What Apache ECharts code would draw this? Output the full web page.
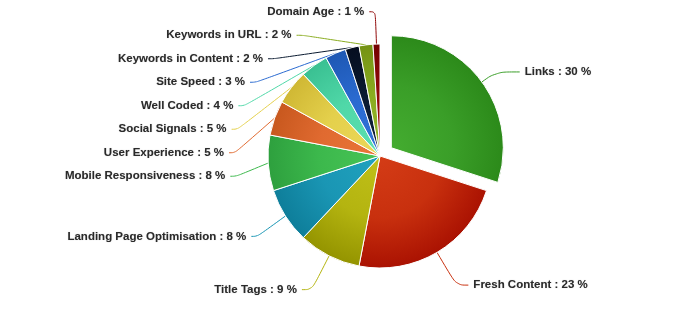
<!DOCTYPE html>
<html><head><meta charset="utf-8">
<script src="https://cdn.jsdelivr.net/npm/echarts@6/dist/echarts.min.js"></script>
<style>html,body{margin:0;padding:0;background:#fff}#c{width:700px;height:316px}</style>
</head><body><div id="c"></div>
<script>
var categories = ['Links','Fresh Content','Title Tags','Landing Page Optimisation','Mobile Responsiveness','User Experience','Social Signals','Well Coded','Site Speed','Keywords in Content','Keywords in URL','Domain Age'];
var values = [30,23,9,8,8,5,5,4,3,2,2,1];
var lights = ['#44ac30','#d43c16','#c0c018','#20a2be','#48c456','#ea7638','#ecd858','#5ce0b0','#3274d8','#12223c','#94b428','#9c0e0e'];
var colors = ['#3a9e28','#c8300e','#b4b410','#1a96b4','#3cb84c','#e06a30','#e4d04c','#50d8a8','#2a6ad0','#0a1a30','#8aac20','#900808'];
var darks  = ['#2c8a1a','#aa1202','#949400','#0e7e9a','#2ea03e','#c8581e','#d0b834','#3ac092','#1e58b4','#060e20','#749214','#740202'];

var CX = 380, CY = 156, R = 112;
var data = categories.map(function(n,i){
  var d = {
    name:n, value:values[i], selected: i===0,
    itemStyle:{ color:{type:'radial',x:CX,y:CY,r:R,global:true,colorStops:[
      {offset:0,color:lights[i]},{offset:0.55,color:colors[i]},{offset:1,color:darks[i]}]}},
    labelLine:{lineStyle:{color:colors[i]}}
  };
  if (i===0) { d.labelLine.length = 17; d.labelLine.length2 = 24; }
  if (i===1) { d.labelLine.length2 = 12; }
  if (i===2) { d.labelLine.length2 = 10; }
  return d;
});
var chart = echarts.init(document.getElementById('c'));
chart.setOption({
  animation:false,
  series:[{
    type:'pie',
    center:[CX,CY],
    radius:R,
    startAngle:90,
    clockwise:true,
    selectedMode:'single',
    selectedOffset:14,
    avoidLabelOverlap:true,
    itemStyle:{borderColor:'#fff',borderWidth:1},
    label:{
      formatter:'{b} : {c} %',
      fontFamily:'Liberation Sans, Arial, sans-serif',
      fontWeight:'bold',
      fontSize:11.5,
      lineHeight:21.5,
      color:'#2a2a2a',
      textShadowColor:'rgba(0,0,0,0.25)',
      textShadowBlur:1
    },
    labelLine:{length:38,length2:6,smooth:0.4,lineStyle:{width:1}},
    data:data
  }]
});
</script></body></html>
